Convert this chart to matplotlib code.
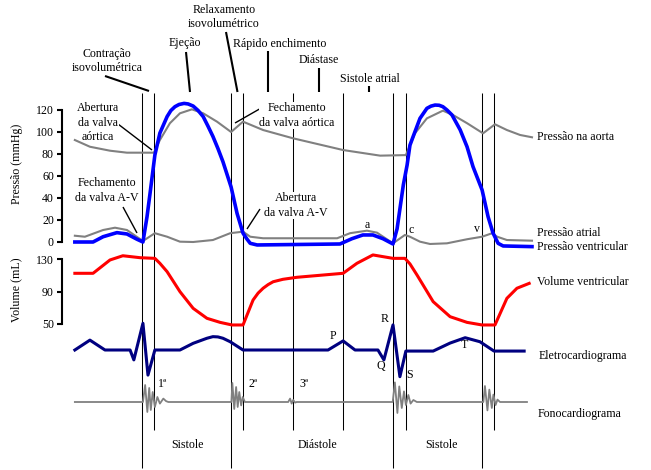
import matplotlib
matplotlib.use('Agg')
import matplotlib.pyplot as plt

plt.rcParams['font.family'] = ['Liberation Serif', 'DejaVu Serif']
FS = 8.6

# time in ms, one heart cycle = 800 ms, t = 0 at closure of the A-V valve
aorta_t = [-214, -166, -102, -48, 38, 57, 89, 121, 159, 195, 239, 284, 322, 386,
           481, 641, 759, 841, 870, 908, 959, 991, 1036, 1087, 1125, 1163, 1205, 1243]
aorta_p = [92.7, 86.6, 83.0, 81.2, 81.2, 92.7, 108, 117, 120.6, 117, 109.4, 100, 109.4, 101.8,
           94.3, 83.6, 78.5, 79, 98.8, 112.4, 119.4, 115.5, 108, 98.8, 107, 101.8, 97.3, 95.2]

atrium_t = [-214, -182, -124, -86, -48, 3, 41, 80, 121, 163, 226, 281, 322, 345, 386, 622,
            663, 717, 749, 800, 838, 854, 886, 918, 972, 1036, 1084, 1116, 1132, 1163, 1243]
atrium_p = [5.7, 4.8, 10.9, 13, 10.9, 0.9, 8, 4.8, 0.3, 0, 1.8, 8, 9.4, 4.8, 3.4, 3.4,
            8, 10.3, 8.5, -1.2, 6.4, 4.8, 0.3, -1.8, -1.2, 2.5, 4.8, 8, 4.8, 1.8, 1.2]

ventricle_t = [-214, -156, -124, -80, -48, -16, 3, 16, 26, 41, 57, 80, 92, 105, 118, 134,
               147, 163, 179, 195, 210, 226, 242, 258, 284, 303, 322, 335, 345, 367, 631,
               669, 704, 736, 768, 800, 813, 822, 833, 845, 854, 864, 886, 908, 921, 934,
               947, 959, 972, 988, 1014, 1036, 1055, 1084, 1103, 1119, 1135, 1151, 1243]
ventricle_p = [0, 0, 4.8, 8.5, 7.3, 2.5, 0, 23, 45, 79, 99, 114, 119.5, 123, 125, 126,
               125.5, 123.6, 119.5, 114, 105.5, 96, 85, 73, 50, 26, 8, 2.5, -1.2, -2.7, -1.8,
               3, 6.4, 6.4, 3, -1.8, 12, 30, 52, 70, 88, 95.7, 112.4, 121.5, 123.5, 124.5,
               124.3, 123, 120, 115.5, 102, 86.6, 68.5, 47.3, 23, 8, -1.2, -3.6, -4.2]

volume_t = [-214, -156, -102, -61, -6, 41, 57, 80, 121, 163, 207, 249, 287, 322, 354, 370,
            386, 402, 418, 449, 494, 641, 685, 736, 800, 838, 854, 877, 928, 982, 1036,
            1084, 1125, 1163, 1195, 1234]
volume_ml = [112.4, 112.4, 128.8, 134, 131.6, 130.8, 124.7, 114.4, 89.8, 69.3, 57, 52, 48.8,
             48.8, 79.5, 88, 94, 98.5, 102, 105, 107.5, 112.4, 124.7, 135, 130.8, 130.8, 124,
             110, 77.5, 59, 52, 48.8, 48.8, 81.6, 94, 100]

ecg_t = [-214, -166, -118, -38, -26, 3, 19, 41, 121, 163, 207, 226, 242, 258, 281, 322, 593,
         641, 679, 752, 771, 800, 822, 841, 928, 982, 1030, 1077, 1122, 1218]
ecg_mv = [0, 0.37, 0, 0, -0.37, 1.0, -0.94, 0, 0, 0.25, 0.44, 0.5, 0.49, 0.44, 0.31, 0, 0,
          0.34, 0, 0, -0.37, 0.94, -1.0, -0.04, -0.04, 0.26, 0.46, 0.31, -0.04, -0.04]

phono_t = [-214, 3, 10, 17, 23, 28, 34, 41, 49, 57, 68, 77, 84,
           285, 288, 294, 300, 305, 310, 316, 321, 328,
           466, 472, 477, 482, 488, 493,
           799, 806, 814, 820, 828, 835, 841, 849, 856, 865, 876,
           1088, 1093, 1101, 1107, 1115, 1120, 1127, 1133, 1141, 1227]
phono_au = [0, 0, 0.85, -0.5, 0.7, -0.4, 0.5, -0.25, 0.25, -0.08, 0.17, 0.04, 0,
            0, 0.95, -0.35, 0.75, -0.25, 0.5, -0.17, 0.25, 0,
            0, 0.17, -0.08, 0.1, -0.03, 0,
            0, 0.98, -0.55, 0.78, -0.3, 0.53, -0.15, 0.35, -0.08, 0.1, 0,
            0, 0.8, -0.42, 0.62, -0.3, 0.37, -0.15, 0.12, 0, 0]

events = [0, 38, 284, 322, 481, 641, 800, 841, 1084, 1122]
long_events = [0, 284, 800, 1084]

W, H = 651, 470
MS_PER_PX = 800 / 251
X0 = 142  # pixel column of t = 0
T_LIM = (-X0 * MS_PER_PX, (W - X0) * MS_PER_PX)

fig = plt.figure(figsize=(W / 100, H / 100), dpi=100)


def layer(y0, px_per_unit, v0=0.0):
    # full-figure axes, value v0 sits at pixel row y0
    ax = fig.add_axes([0, 0, 1, 1])
    ax.set_xlim(*T_LIM)
    ax.set_ylim(v0 + (y0 - H) / px_per_unit, v0 + y0 / px_per_unit)
    ax.patch.set_alpha(0)
    for s in ax.spines.values():
        s.set_visible(False)
    ax.set_xticks([])
    ax.set_yticks([])
    return ax


# event lines
ax_ev = fig.add_axes([0, 0, 1, 1])
ax_ev.set_xlim(*T_LIM)
ax_ev.set_ylim(H, 0)
ax_ev.axis('off')
for t in events:
    ax_ev.vlines(t, 93, 468 if t in long_events else 430, color='black', lw=0.75)

# texts in pixel coords
ax_tx = fig.add_axes([0, 0, 1, 1])
ax_tx.set_xlim(0, W)
ax_tx.set_ylim(H, 0)
ax_tx.axis('off')
ax_tx.patch.set_alpha(0)

box = dict(facecolor='white', edgecolor='none', pad=0.3)


def txt(x, y, s, ha='center', **kw):
    ax_tx.text(x, y, s, ha=ha, va='center', fontsize=FS, linespacing=1.25, **kw)


def seg(x1, y1, x2, y2, lw=1.0):
    ax_tx.plot([x1, x2], [y1, y2], color='black', lw=lw, solid_capstyle='butt')


# phase headers
txt(107, 61, 'Contração\nisovolumétrica')
seg(105, 76, 149, 91, 1.5)
txt(185, 43, 'Ejeção')
seg(186, 52, 190, 92, 1.5)
txt(224, 17, 'Relaxamento\nisovolumétrico')
seg(226, 32, 237.5, 92, 1.5)
txt(280, 43.5, 'Rápido enchimento')
seg(267.5, 51, 267.5, 92, 1.5)
txt(319, 60, 'Diástase')
seg(319, 68, 319, 92, 1.5)
txt(370, 78.5, 'Sistole atrial')
seg(368.5, 86, 368.5, 92, 1.5)

# valve events
txt(98, 122.5, 'Abertura\nda valva\naórtica', bbox=box)
seg(118, 124, 152, 150)
txt(107, 190.5, 'Fechamento\nda valva A-V', bbox=box)
seg(123, 207, 137, 233)
txt(297, 115.5, 'Fechamento\nda valva aórtica', bbox=box)
seg(263, 107, 235, 123)
txt(296, 205.5, 'Abertura\nda valva A-V', bbox=box)
seg(260, 209, 247, 229)

# curve names
txt(537, 137, 'Pressão na aorta', ha='left')
txt(537, 233, 'Pressão atrial', ha='left')
txt(537, 247.5, 'Pressão ventricular', ha='left')
txt(537, 282, 'Volume ventricular', ha='left')
txt(539, 356, 'Eletrocardiograma', ha='left')
txt(538, 414, 'Fonocardiograma', ha='left')

# wave labels
for x, y, s in [(367, 225, 'a'), (411, 230, 'c'), (477, 229, 'v'),
                (333, 336, 'P'), (385, 319, 'R'), (381, 366, 'Q'), (410, 375, 'S'),
                (464, 345, 'T'), (163, 384, '1ª'), (253, 384, '2ª'), (304, 384, '3ª')]:
    txt(x, y, s)

for x, s in [(188, 'Sistole'), (318, 'Diástole'), (442, 'Sistole')]:
    txt(x, 445, s)

txt(17, 164, 'Pressão (mmHg)', rotation=90)
txt(16, 290, 'Volume (mL)', rotation=90)

spine_t = (62 - X0) * MS_PER_PX


def left_axis(ax, lo, hi, ticks):
    ax.spines['left'].set_visible(True)
    ax.spines['left'].set_position(('data', spine_t))
    ax.spines['left'].set_bounds(lo, hi)
    ax.spines['left'].set_linewidth(1.5)
    ax.set_yticks(ticks)
    ax.tick_params(axis='y', direction='out', length=3.8, width=1.5, labelsize=FS, pad=2)


# pressure
ax_p = layer(242, 1.1)
left_axis(ax_p, 0, 120, [0, 20, 40, 60, 80, 100, 120])
ax_p.plot(aorta_t, aorta_p, color='#808080', lw=1.5)
ax_p.plot(atrium_t, atrium_p, color='#808080', lw=1.5)
ax_p.plot(ventricle_t, ventricle_p, color='#0000ff', lw=2.6)

# volume
ax_v = layer(259, 65 / 80, 130)
left_axis(ax_v, 50, 130, [50, 90, 130])
ax_v.plot(volume_t, volume_ml, color='#ff0000', lw=2.2)

# ECG
ax_e = layer(350, 26.7)
ax_e.plot(ecg_t, ecg_mv, color='#000080', lw=2.2)

# phonocardiogram
ax_f = layer(402, 20)
ax_f.plot(phono_t, phono_au, color='#808080', lw=1.3)

fig.savefig('out.png', dpi=100)
